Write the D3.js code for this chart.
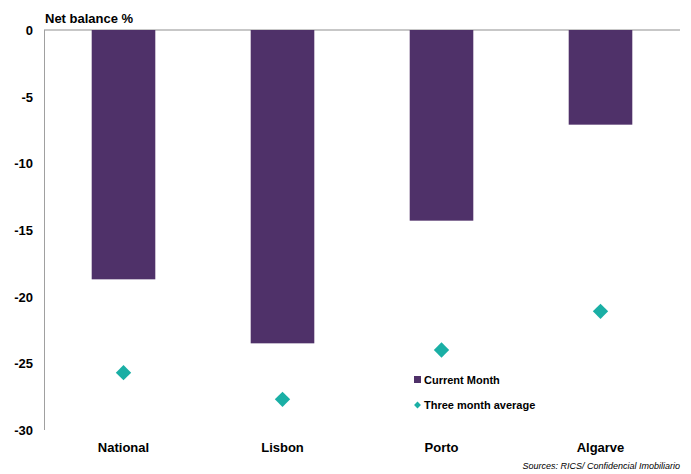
<!DOCTYPE html>
<html>
<head>
<meta charset="utf-8">
<script src="https://cdn.jsdelivr.net/npm/d3@7"></script>
<style>
  body { margin: 0; background: #fff; }
  text { font-family: "Liberation Sans", Arial, sans-serif; }
</style>
</head>
<body>
<script>
var categories = ["National", "Lisbon", "Porto", "Algarve"];
var currentMonth = [-18.7, -23.5, -14.3, -7.1];
var threeMonthAvg = [-25.7, -27.7, -24.0, -21.1];
var yTicks = [0, -5, -10, -15, -20, -25, -30];

var width = 691, height = 474;
var svg = d3.select("body").append("svg").attr("width", width).attr("height", height);

var x = d3.scaleBand().domain(categories).range([44, 680]).paddingInner(0.6).paddingOuter(0.3);
var y = d3.scaleLinear().domain([-30, 0]).range([430, 30]);

// zero line
svg.append("line").attr("x1", 44).attr("x2", 680).attr("y1", y(0)).attr("y2", y(0))
  .attr("stroke", "#b4b4b4").attr("stroke-width", 1.5);

// bars
svg.selectAll(".bar").data(currentMonth).enter().append("rect")
  .attr("x", function(d, i){ return x(categories[i]); })
  .attr("y", y(0))
  .attr("width", x.bandwidth())
  .attr("height", function(d){ return y(d) - y(0); })
  .attr("fill", "#4f3169");

// y axis line
svg.append("line").attr("x1", 44.5).attr("x2", 44.5).attr("y1", y(0)).attr("y2", y(-30))
  .attr("stroke", "#a0a0a0").attr("stroke-width", 1);

// diamonds
var diamond = d3.symbol().type(d3.symbolDiamond2).size(150);
svg.selectAll(".pt").data(threeMonthAvg).enter().append("path")
  .attr("d", diamond)
  .attr("transform", function(d, i){ return "translate(" + (x(categories[i]) + x.bandwidth()/2) + "," + y(d) + ")"; })
  .attr("fill", "#1aafa5");

// y tick labels
svg.selectAll(".yt").data(yTicks).enter().append("text")
  .attr("x", 33).attr("y", function(d){ return y(d) + 5; })
  .attr("text-anchor", "end").attr("font-size", 13).attr("font-weight", "bold")
  .text(function(d){ return d; });

// category labels
svg.selectAll(".xt").data(categories).enter().append("text")
  .attr("x", function(d){ return x(d) + x.bandwidth()/2; }).attr("y", 452)
  .attr("text-anchor", "middle").attr("font-size", 13).attr("font-weight", "bold")
  .text(function(d){ return d; });

// title
svg.append("text").attr("x", 45).attr("y", 23).attr("font-size", 13).attr("font-weight", "bold")
  .text("Net balance %");

// legend
svg.append("rect").attr("x", 414).attr("y", 376).attr("width", 7).attr("height", 7).attr("fill", "#4f3169");
svg.append("text").attr("x", 424).attr("y", 384).attr("font-size", 11).attr("font-weight", "bold").text("Current Month");
svg.append("path").attr("d", d3.symbol().type(d3.symbolDiamond2).size(30))
  .attr("transform", "translate(417.5,405)").attr("fill", "#1aafa5");
svg.append("text").attr("x", 424).attr("y", 409).attr("font-size", 11).attr("font-weight", "bold").text("Three month average");

// source
svg.append("text").attr("x", 680).attr("y", 469).attr("text-anchor", "end")
  .attr("font-size", 9).attr("font-style", "italic").text("Sources: RICS/ Confidencial Imobiliario");
</script>
</body>
</html>
